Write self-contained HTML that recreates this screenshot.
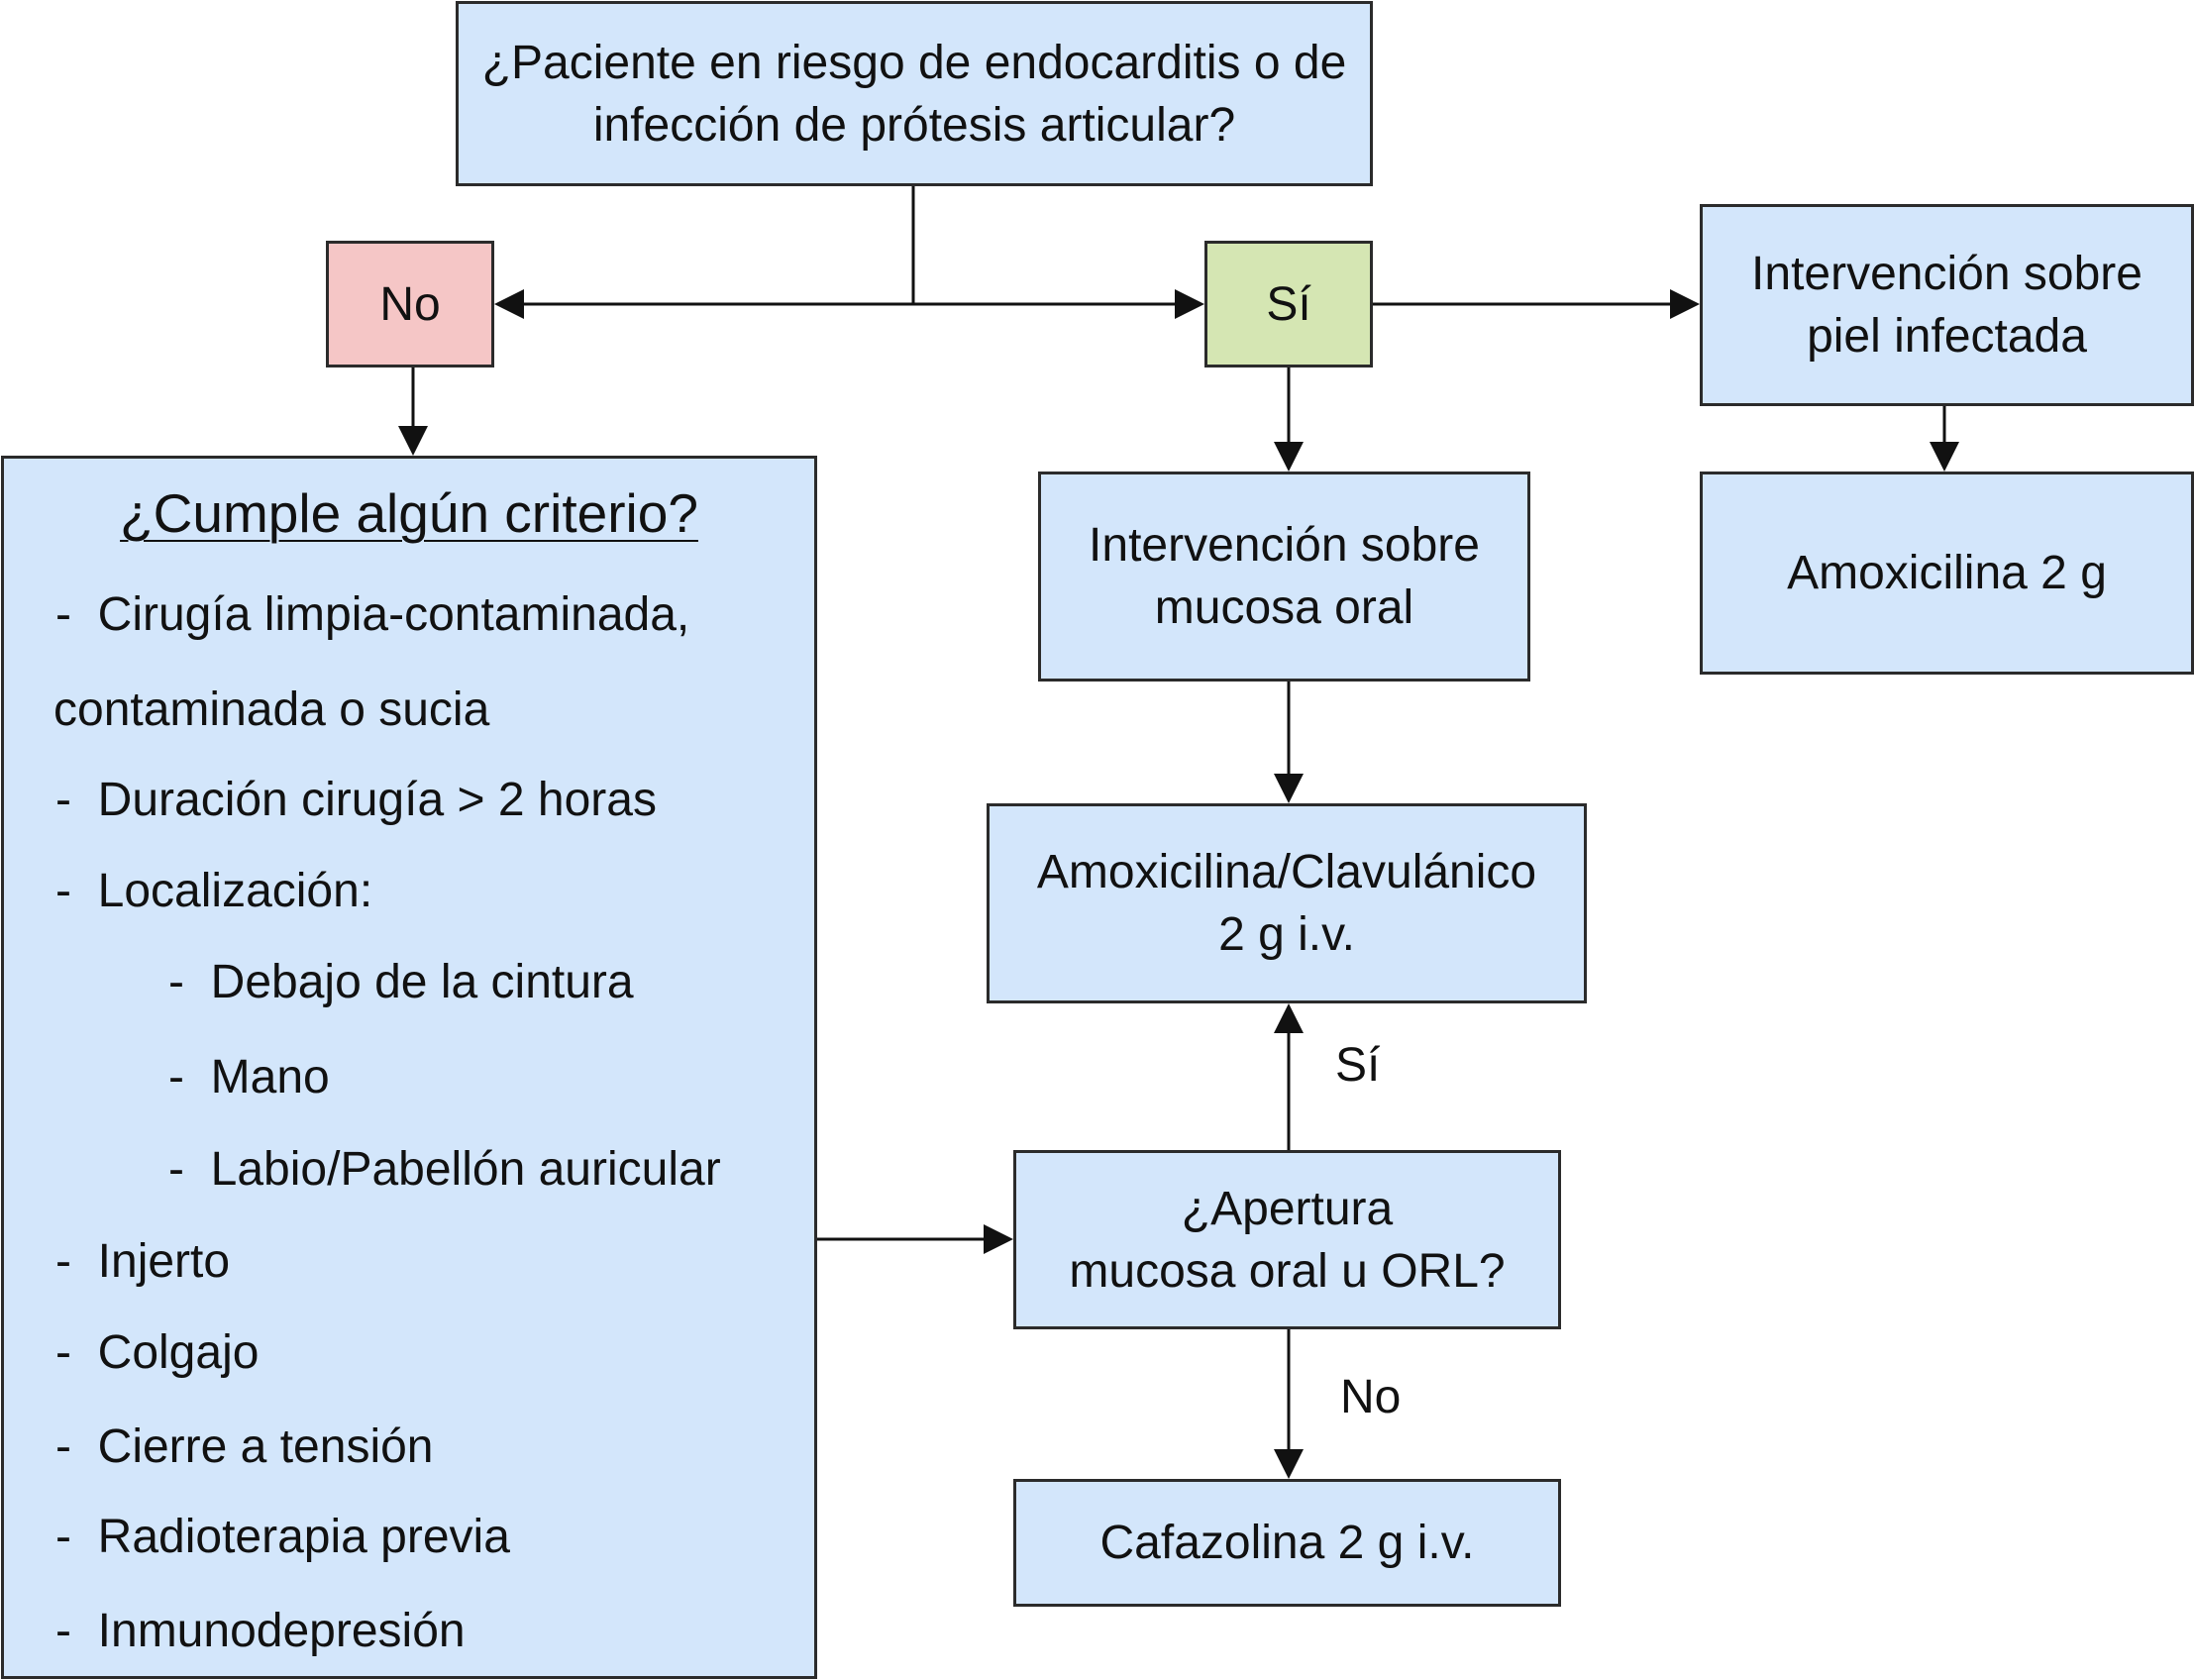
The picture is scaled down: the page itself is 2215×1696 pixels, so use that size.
<!DOCTYPE html>
<html><head><meta charset="utf-8"><style>
body{margin:0;width:2215px;height:1696px;background:#fff;position:relative;overflow:hidden;font-family:"Liberation Sans",Arial,sans-serif;color:#111}
.b{position:absolute;box-sizing:border-box;border:3px solid #2b2b2b;background:#d3e6fb;display:flex;align-items:center;justify-content:center;text-align:center;font-size:48px;line-height:63px;white-space:nowrap}
.t{position:absolute;font-size:48px;white-space:nowrap;line-height:56px;transform:translateY(-50%)}
svg{position:absolute;left:0;top:0}
</style></head><body>
<div class="b" style="left:460px;top:1px;width:926px;height:187px">¿Paciente en riesgo de endocarditis o de<br>infección de prótesis articular?</div>
<div class="b" style="left:329px;top:243px;width:170px;height:128px;background:#f5c6c6">No</div>
<div class="b" style="left:1216px;top:243px;width:170px;height:128px;background:#d5e6b3">Sí</div>
<div class="b" style="left:1716px;top:206px;width:499px;height:204px">Intervención sobre<br>piel infectada</div>
<div class="b" style="left:1716px;top:476px;width:499px;height:205px">Amoxicilina 2 g</div>
<div class="b" style="left:1048px;top:476px;width:497px;height:212px">Intervención sobre<br>mucosa oral</div>
<div class="b" style="left:996px;top:811px;width:606px;height:202px">Amoxicilina/Clavulánico<br>2 g i.v.</div>
<div class="b" style="left:1023px;top:1161px;width:553px;height:181px">¿Apertura<br>mucosa oral u ORL?</div>
<div class="b" style="left:1023px;top:1493px;width:553px;height:129px">Cafazolina 2 g i.v.</div>
<div class="b" style="left:1px;top:460px;width:824px;height:1235px;display:block"></div>
<div class="t" style="left:0;width:826px;text-align:center;top:518px;font-size:55px"><span style="text-decoration:underline;text-underline-offset:8px;text-decoration-thickness:2px">¿Cumple algún criterio?</span></div>
<div class="t" style="left:56px;top:621px">-&nbsp;&nbsp;Cirugía limpia-contaminada,</div>
<div class="t" style="left:54px;top:717px">contaminada o sucia</div>
<div class="t" style="left:56px;top:808px">-&nbsp;&nbsp;Duración cirugía &gt; 2 horas</div>
<div class="t" style="left:56px;top:900px">-&nbsp;&nbsp;Localización:</div>
<div class="t" style="left:170px;top:992px">-&nbsp;&nbsp;Debajo de la cintura</div>
<div class="t" style="left:170px;top:1088px">-&nbsp;&nbsp;Mano</div>
<div class="t" style="left:170px;top:1181px">-&nbsp;&nbsp;Labio/Pabellón auricular</div>
<div class="t" style="left:56px;top:1274px">-&nbsp;&nbsp;Injerto</div>
<div class="t" style="left:56px;top:1366px">-&nbsp;&nbsp;Colgajo</div>
<div class="t" style="left:56px;top:1461px">-&nbsp;&nbsp;Cierre a tensión</div>
<div class="t" style="left:56px;top:1552px">-&nbsp;&nbsp;Radioterapia previa</div>
<div class="t" style="left:56px;top:1647px">-&nbsp;&nbsp;Inmunodepresión</div>
<div class="t" style="left:1348px;top:1076px">Sí</div>
<div class="t" style="left:1353px;top:1411px">No</div>
<svg width="2215" height="1696" stroke="#111" stroke-width="3" fill="#111">
<line x1="922" y1="188" x2="922" y2="307"/>
<line x1="525" y1="307" x2="1190" y2="307"/>
<polygon points="499,307 529,292 529,322" stroke="none"/>
<polygon points="1216,307 1186,292 1186,322" stroke="none"/>
<line x1="1386" y1="307" x2="1690" y2="307"/>
<polygon points="1716,307 1686,292 1686,322" stroke="none"/>
<line x1="417" y1="371" x2="417" y2="434"/>
<polygon points="417,460 402,430 432,430" stroke="none"/>
<line x1="1301" y1="371" x2="1301" y2="450"/>
<polygon points="1301,476 1286,446 1316,446" stroke="none"/>
<line x1="1963" y1="410" x2="1963" y2="450"/>
<polygon points="1963,476 1948,446 1978,446" stroke="none"/>
<line x1="1301" y1="688" x2="1301" y2="785"/>
<polygon points="1301,811 1286,781 1316,781" stroke="none"/>
<line x1="1301" y1="1161" x2="1301" y2="1039"/>
<polygon points="1301,1013 1286,1043 1316,1043" stroke="none"/>
<line x1="1301" y1="1342" x2="1301" y2="1467"/>
<polygon points="1301,1493 1286,1463 1316,1463" stroke="none"/>
<line x1="825" y1="1251" x2="997" y2="1251"/>
<polygon points="1023,1251 993,1236 993,1266" stroke="none"/>
</svg>
</body></html>
